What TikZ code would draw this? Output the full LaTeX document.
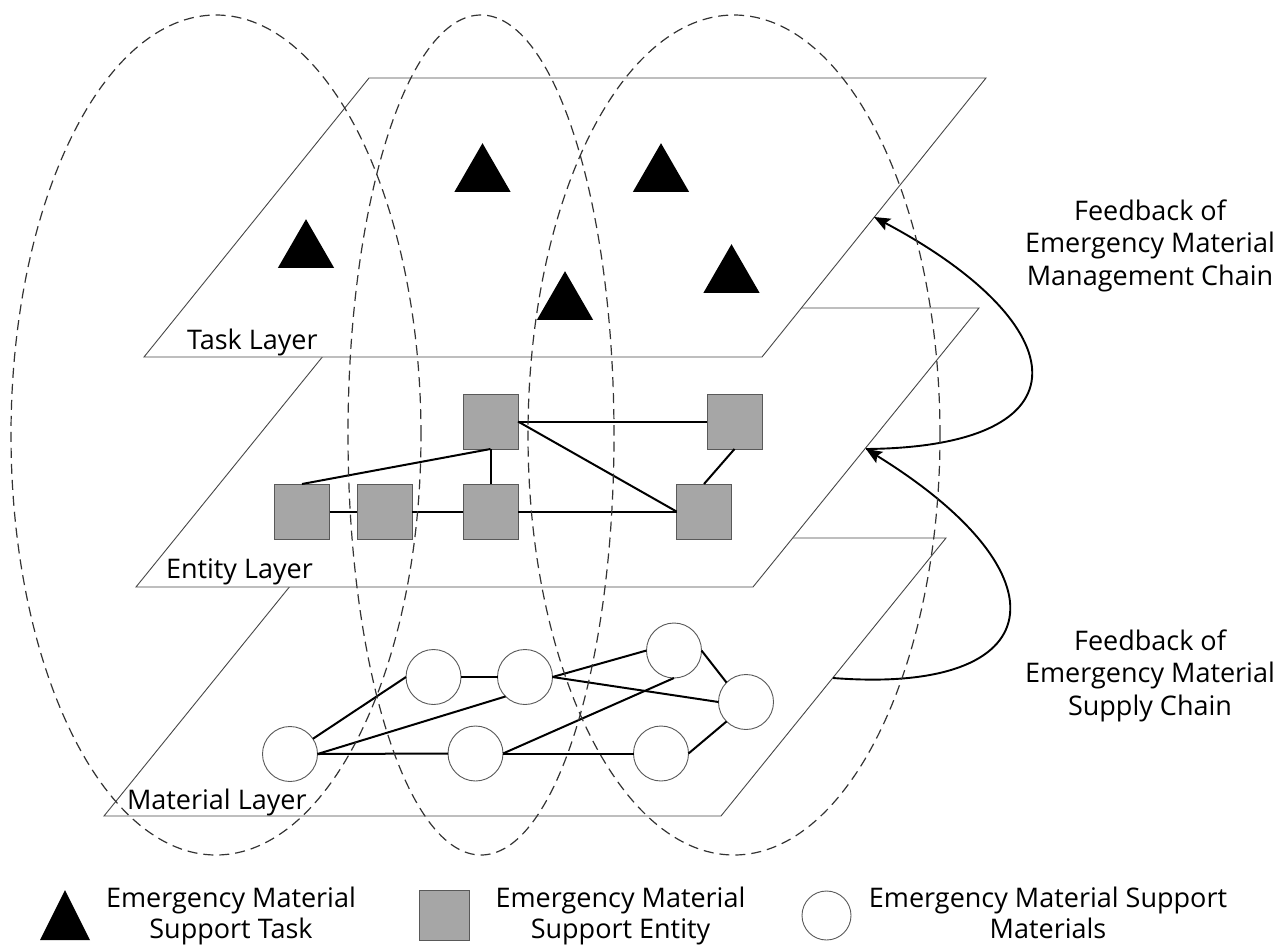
\documentclass[tikz,border=0pt]{standalone}
\usepackage{fontspec}
\setmainfont{Open Sans}
\usetikzlibrary{shapes.geometric,arrows.meta}
\begin{document}
\begin{tikzpicture}[x=1pt,y=-1pt,
  layer/.style={draw=black!72,line width=0.9pt,fill=white},
  task/.style={regular polygon,regular polygon sides=3,minimum size=65pt,
    inner sep=0pt,outer sep=0pt,fill=black},
  entity/.style={rectangle,minimum size=55pt,inner sep=0pt,outer sep=0pt,
    fill=black!35,draw=black!65,line width=0.9pt},
  material/.style={circle,minimum size=55pt,inner sep=0pt,outer sep=0pt,
    fill=white,draw=black!65,line width=0.9pt},
  link/.style={line width=2pt},
  zone/.style={draw=black!80,line width=1.2pt,dash pattern=on 10pt off 6pt},
  feedback/.style={line width=1.9pt,-{Stealth[length=16pt,width=13pt,inset=3pt]}},
  lbl/.style={font=\fontsize{27}{32.5}\selectfont,inner sep=0pt,outer sep=0pt},
  lines/.style={lbl,align=center,anchor=north},
  leglines/.style={lines,font=\fontsize{27}{31}\selectfont}]
\useasboundingbox (0,0) rectangle (1288,945);

% three stacked layers, bottom one first so the upper ones hide it
\draw[layer] (329,538) -- (946,538) -- (721,816) -- (104,816) -- cycle;
\draw[layer] (362,308) -- (979,308) -- (753,587) -- (136,587) -- cycle;
\draw[layer] (369,78) -- (986,78) -- (762,357) -- (144,357) -- cycle;

\node[lbl,anchor=base west] (taskname) at (187,349) {Task Layer};
\node[lbl,anchor=base west] (entityname) at (166,578) {Entity Layer};
\node[lbl,anchor=base west] (materialname) at (127,809) {Material Layer};

% task layer
\node[task] (t1) at (306,251.7) {};
\node[task] (t2) at (482.5,175.7) {};
\node[task] (t3) at (565,303.7) {};
\node[task] (t4) at (661,175.7) {};
\node[task] (t5) at (731.5,276.7) {};

% entity layer
\node[entity] (e1) at (490.5,421.5) {};
\node[entity] (e2) at (734.5,421.5) {};
\node[entity] (e3) at (302,511.5) {};
\node[entity] (e4) at (384.5,511.5) {};
\node[entity] (e5) at (490.5,511.5) {};
\node[entity] (e6) at (704,511.5) {};
\draw[link] (e1) -- (e2);
\draw[link] (e1.east) -- (e6.west);
\draw[link] (e1.south) -- (e5.north);
\draw[link] (e1.south) -- (e3.north);
\draw[link] (e3) -- (e4);
\draw[link] (e4) -- (e5);
\draw[link] (e5) -- (e6);
\draw[link] (e2.south) -- (e6.north);

% material layer
\node[material] (m1) at (290,754) {};
\node[material] (m2) at (433.5,677) {};
\node[material] (m3) at (525,677) {};
\node[material] (m4) at (674,650.5) {};
\node[material] (m5) at (746,702) {};
\node[material] (m6) at (475.5,753.5) {};
\node[material] (m7) at (661,753.5) {};
\draw[link] (m1) -- (m2.west);
\draw[link] (m1.east) -- (m3.south west);
\draw[link] (m1.east) -- (m6.west);
\draw[link] (m2.east) -- (m3.west);
\draw[link] (m3.east) -- (m4.west);
\draw[link] (m3.east) -- (m5.west);
\draw[link] (m4.east) -- (m5.north west);
\draw[link] (m6.east) -- (m4.south);
\draw[link] (m6.east) -- (m7.west);
\draw[link] (m7.east) -- (m5.south west);

% feedback arrows between the layers
\coordinate (onTask) at (874,217);
\coordinate (onEntity) at (866,449);
\coordinate (onMaterial) at (833,678);
\draw[feedback] (onEntity) .. controls (1092,447) and (1077,325) .. (onTask);
\draw[feedback] (onMaterial) .. controls (1052,695) and (1070,575) .. (onEntity);
\node[lines] (mgmt) at (1150,199.5) {Feedback of\\Emergency Material\\Management Chain};
\node[lines] (supply) at (1150,629.5) {Feedback of\\Emergency Material\\Supply Chain};

% dashed groupings across the layers
\draw[zone] (216,435) ellipse [x radius=205pt, y radius=420pt];
\draw[zone] (481,435) ellipse [x radius=133pt, y radius=420pt];
\draw[zone] (734,435) ellipse [x radius=206pt, y radius=420pt];

% legend
\fill (65,890) -- (90,940) -- (40,940) -- cycle;
\node[leglines] (legtask) at (231,887) {Emergency Material\\Support Task};
\node[entity,minimum size=50pt] (legentity) at (444,915) {};
\node[leglines] (legentitytext) at (620.5,887) {Emergency Material\\Support Entity};
\node[material,minimum size=49pt] (legmaterial) at (826.5,915.5) {};
\node[leglines] (legmaterialtext) at (1048,887) {Emergency Material Support\\Materials};
\end{tikzpicture}
\end{document}
